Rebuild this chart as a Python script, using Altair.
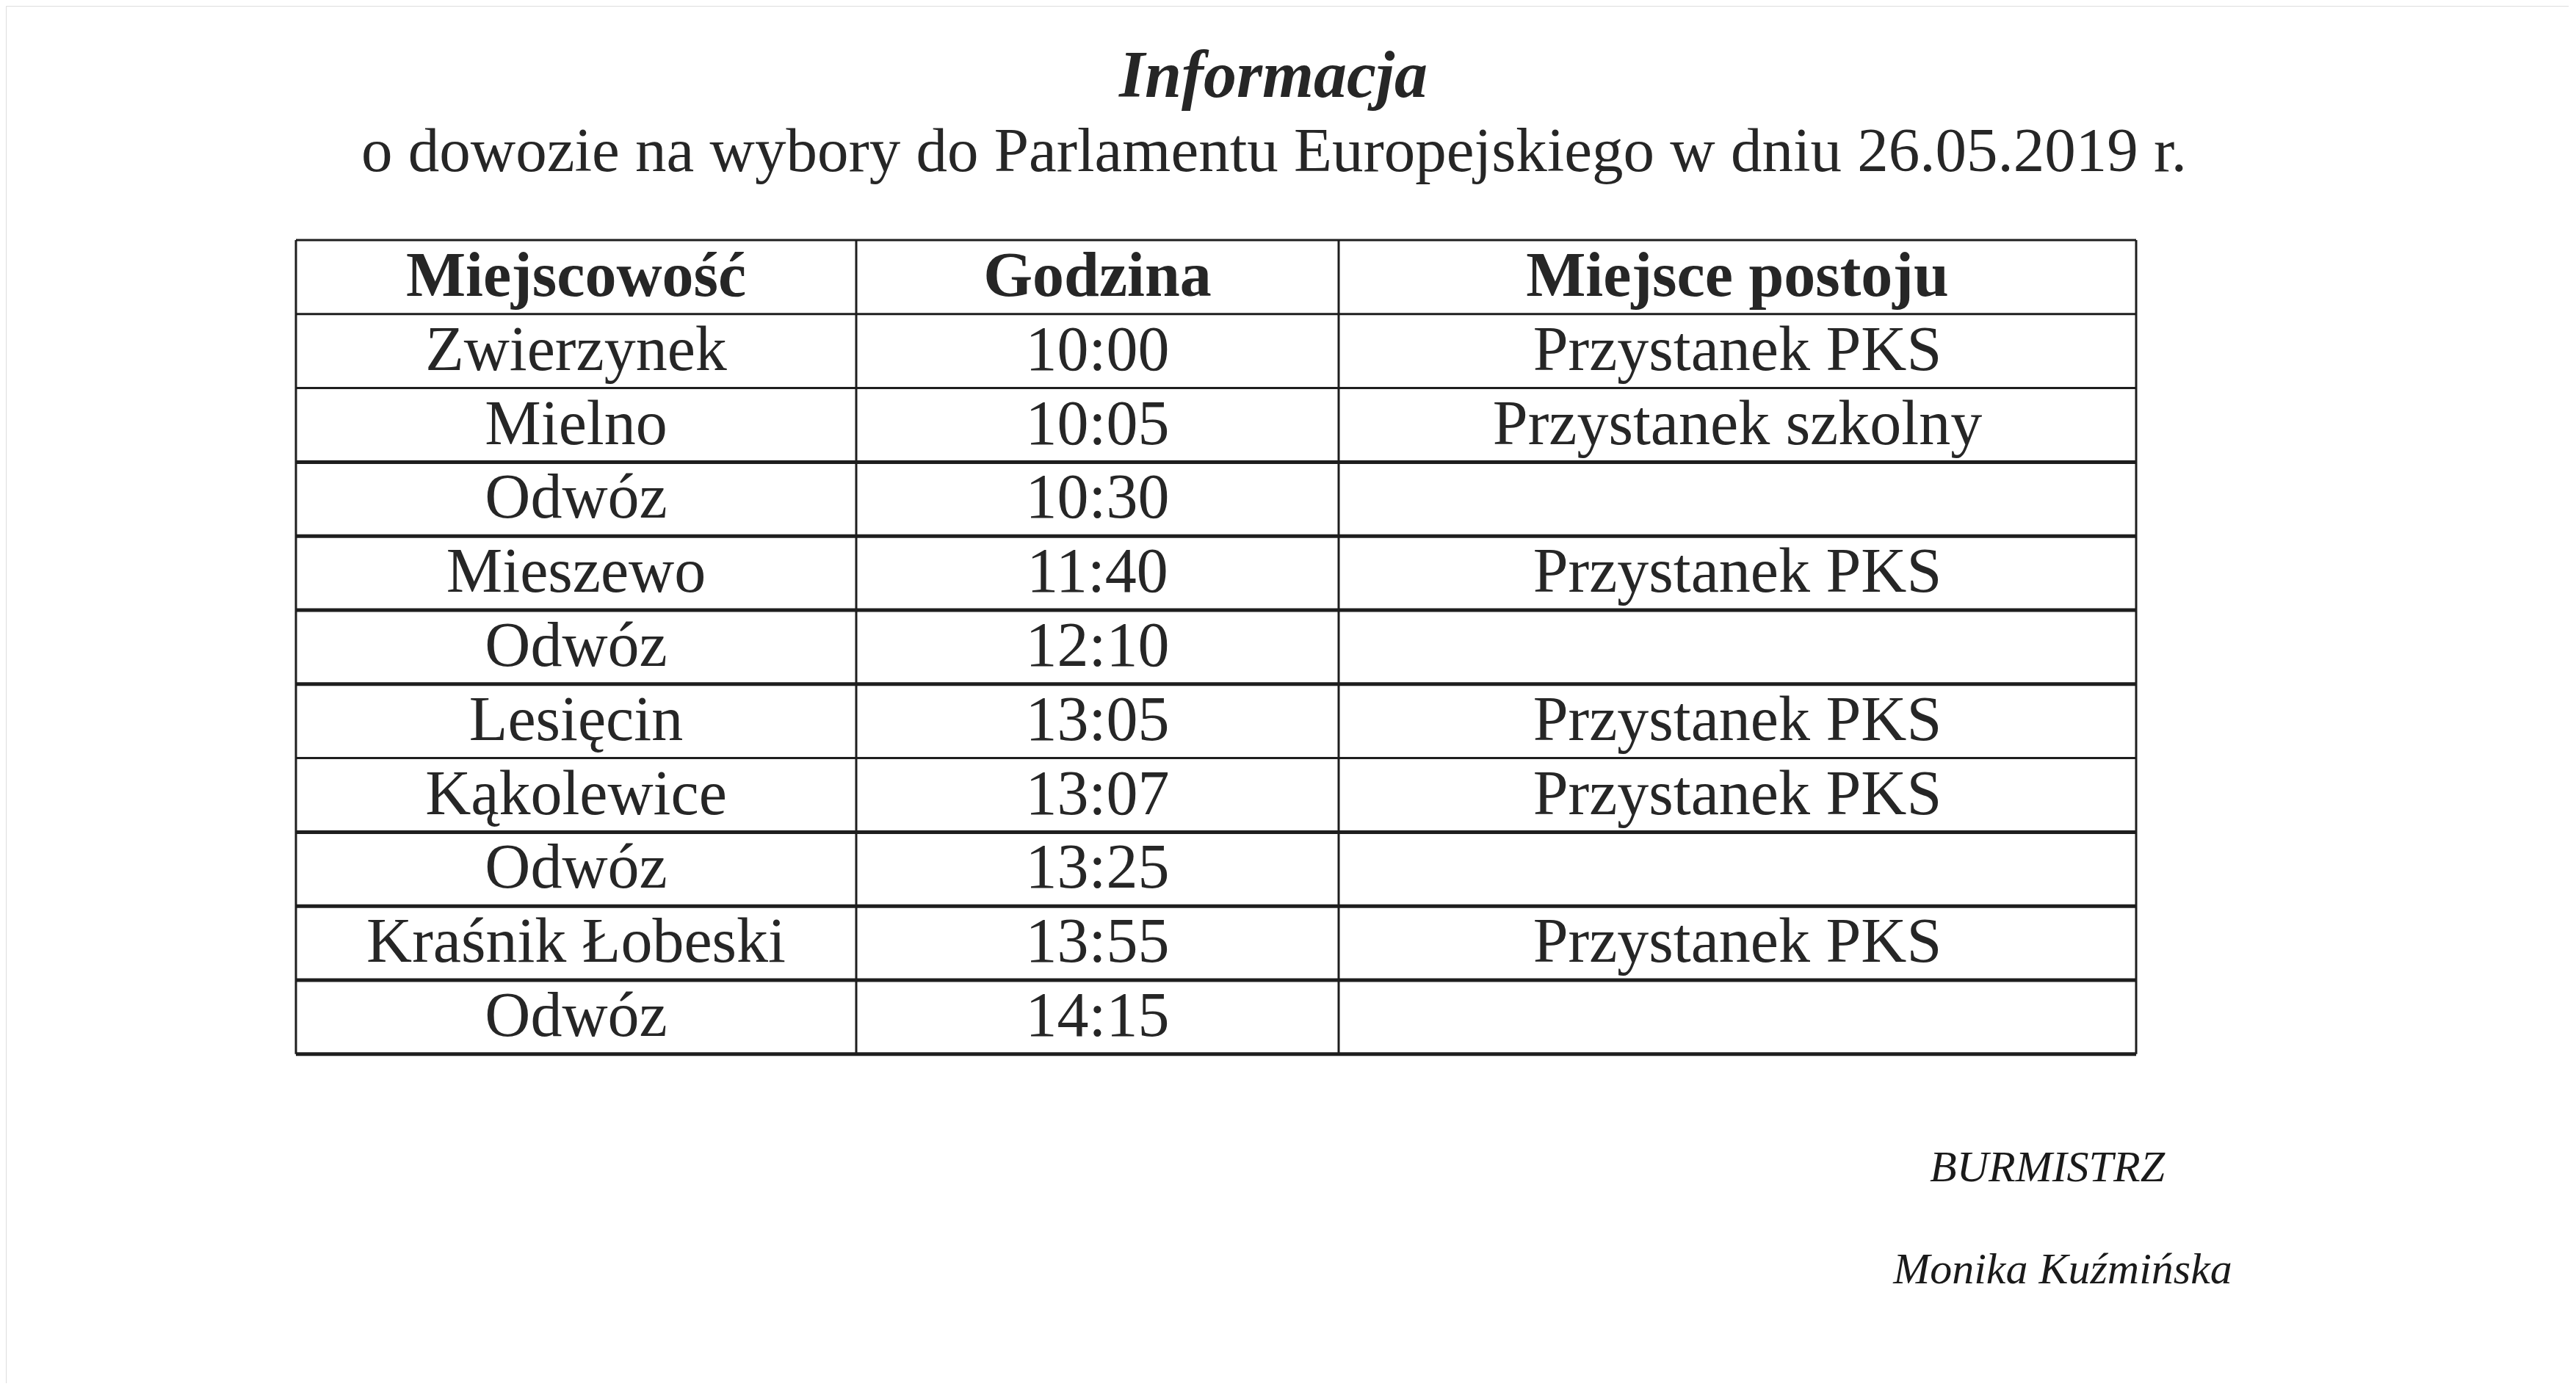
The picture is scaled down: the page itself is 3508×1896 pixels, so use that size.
import altair as alt
import pandas as pd

# ---------------- data ----------------
title_text = "Informacja"
subtitle_text = "o dowozie na wybory do Parlamentu Europejskiego w dniu 26.05.2019 r."
headers = ["Miejscowość", "Godzina", "Miejsce postoju"]
miejscowosc = ["Zwierzynek", "Mielno", "Odwóz", "Mieszewo", "Odwóz",
               "Lesięcin", "Kąkolewice", "Odwóz", "Kraśnik Łobeski", "Odwóz"]
godzina = ["10:00", "10:05", "10:30", "11:40", "12:10",
           "13:05", "13:07", "13:25", "13:55", "14:15"]
postoj = ["Przystanek PKS", "Przystanek szkolny", "", "Przystanek PKS", "",
          "Przystanek PKS", "Przystanek PKS", "", "Przystanek PKS", ""]
sign_role = "BURMISTRZ"
sign_name = "Monika Kuźmińska"

# ---------------- layout (image pixel units) ----------------
W, H = 3490, 1876
COL_EDGES = [403, 1166, 1823, 2909]
TABLE_TOP = 327
ROW_H = 100.8
BASE_OFF = 76
# line weight per horizontal boundary (0 = top ... 11 = bottom)
THICK = [0, 0, 0, 1, 1, 1, 1, 0, 1, 1, 1, 1]
FONT = "Liberation Serif"
TXT = "#262626"
LINE = "#1e1e1e"

xs = alt.Scale(domain=[8, 8 + W], nice=False, zero=False)
ys = alt.Scale(domain=[8, 8 + H], nice=False, zero=False, reverse=True)

# table cells
cells = []
cols = [miejscowosc, godzina, postoj]
for c, h in enumerate(headers):
    cx = (COL_EDGES[c] + COL_EDGES[c + 1]) / 2
    cells.append({"x": cx, "y": TABLE_TOP + BASE_OFF, "t": h, "hdr": 1})
    for r, v in enumerate(cols[c]):
        cells.append({"x": cx, "y": TABLE_TOP + BASE_OFF + (r + 1) * ROW_H, "t": v, "hdr": 0})
cells_df = pd.DataFrame(cells)

hdr_df = cells_df[cells_df.hdr == 1]
body_df = cells_df[(cells_df.hdr == 0) & (cells_df.t != "")]

hlines = pd.DataFrame([
    {"x": COL_EDGES[0], "x2": COL_EDGES[-1], "y": TABLE_TOP + i * ROW_H, "y2": TABLE_TOP + i * ROW_H, "w": THICK[i]}
    for i in range(len(miejscowosc) + 2)
])
vlines = pd.DataFrame([
    {"x": e, "x2": e, "y": TABLE_TOP, "y2": TABLE_TOP + (len(miejscowosc) + 1) * ROW_H}
    for e in COL_EDGES
])

enc = dict(x=alt.X("x:Q", scale=xs, axis=None), y=alt.Y("y:Q", scale=ys, axis=None))

header_layer = alt.Chart(hdr_df).mark_text(
    font=FONT, fontSize=86, fontWeight="bold", color=TXT, baseline="alphabetic", align="center"
).encode(text="t:N", **enc)

body_layer = alt.Chart(body_df).mark_text(
    font=FONT, fontSize=86, color=TXT, baseline="alphabetic", align="center"
).encode(text="t:N", **enc)

thin_layer = alt.Chart(hlines[hlines.w == 0]).mark_rule(color=LINE, strokeWidth=3).encode(
    x2="x2:Q", y2="y2:Q", **enc)
thick_layer = alt.Chart(hlines[hlines.w == 1]).mark_rule(color=LINE, strokeWidth=5).encode(
    x2="x2:Q", y2="y2:Q", **enc)
v_layer = alt.Chart(vlines).mark_rule(color=LINE, strokeWidth=3).encode(
    x2="x2:Q", y2="y2:Q", **enc)

titles = pd.DataFrame([
    {"x": 1734, "y": 132, "t": title_text, "k": "title"},
    {"x": 1735, "y": 233, "t": subtitle_text, "k": "sub"},
    {"x": 2788, "y": 1609, "t": sign_role, "k": "sig"},
    {"x": 2809, "y": 1748, "t": sign_name, "k": "sig"},
])
title_layer = alt.Chart(titles[titles.k == "title"]).mark_text(
    font=FONT, fontSize=90, fontWeight="bold", fontStyle="italic", color=TXT,
    baseline="alphabetic", align="center").encode(text="t:N", **enc)
sub_layer = alt.Chart(titles[titles.k == "sub"]).mark_text(
    font=FONT, fontSize=85, color=TXT, baseline="alphabetic", align="center").encode(text="t:N", **enc)
sig_layer = alt.Chart(titles[titles.k == "sig"]).mark_text(
    font=FONT, fontSize=60, fontStyle="italic", color="#1a1a1a",
    baseline="alphabetic", align="center").encode(text="t:N", **enc)

chart = alt.layer(
    thin_layer, thick_layer, v_layer, header_layer, body_layer, title_layer, sub_layer, sig_layer
).properties(
    width=W, height=H, autosize=alt.AutoSizeParams(type="none"), padding=0
).configure_view(stroke=None).configure(background="white")

chart.save("out.html", embed_options={"renderer": "svg", "actions": False})
